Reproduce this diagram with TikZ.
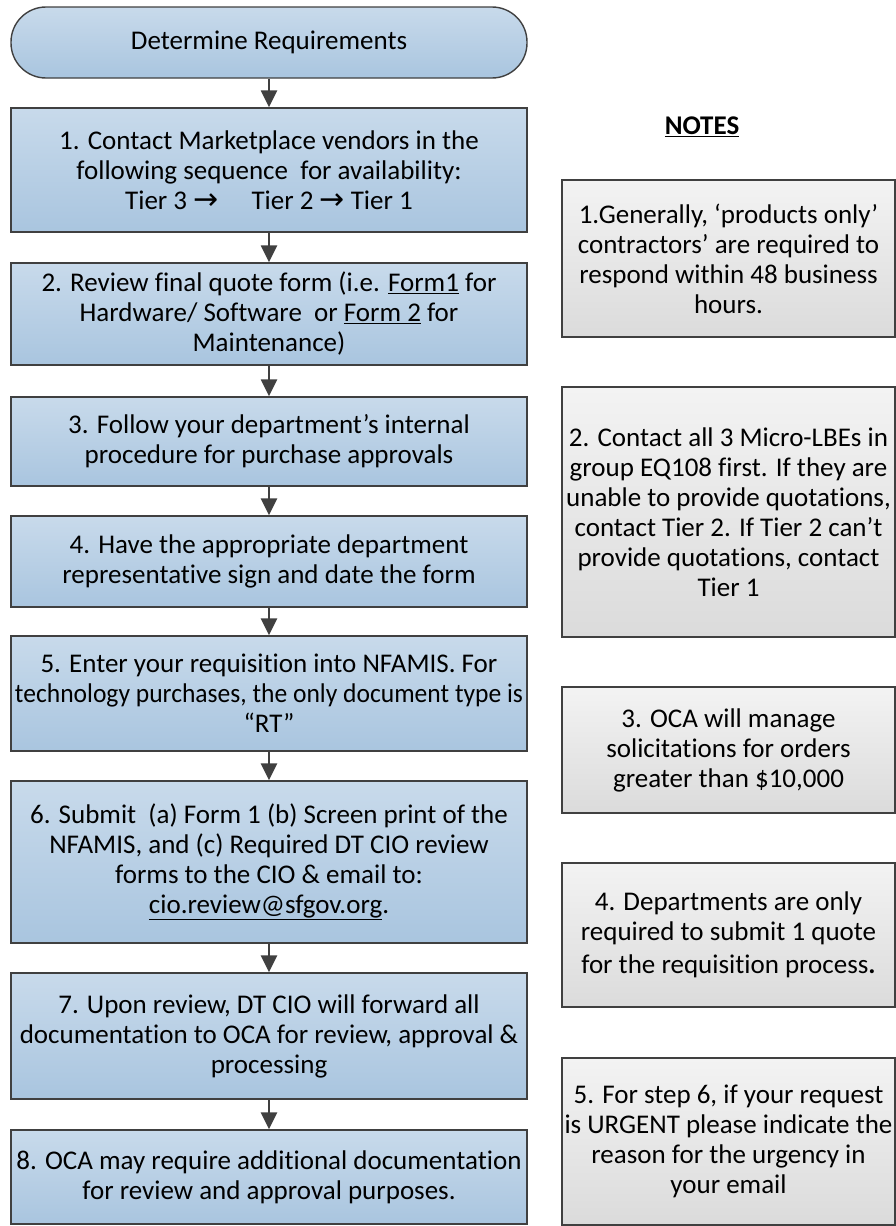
\documentclass[tikz,border=0pt]{standalone}
\usepackage{fontspec}
\usepackage{graphicx}
\setmainfont{Carlito}[Ligatures={NoCommon}]
\newfontfamily\arrowfont{DejaVu Sans}
\usetikzlibrary{arrows.meta}

\definecolor{boxtop}{HTML}{C8DAEB}
\definecolor{boxbottom}{HTML}{A9C5DF}
\definecolor{notetop}{HTML}{F3F3F3}
\definecolor{notebottom}{HTML}{DBDBDB}
\definecolor{edgegray}{HTML}{404040}

\newcommand{\tierto}{{\arrowfont\fontsize{30}{30}\selectfont →}}

\begin{document}
\begin{tikzpicture}[
        x=1pt, y=-1pt,
        font=\fontsize{27}{30}\selectfont,
        startnode/.style={rectangle, rounded corners=35pt, draw=edgegray, line width=1.4pt, top color=boxtop, bottom color=boxbottom, minimum width=516pt, minimum height=71pt, align=center},
        stepnode/.style={rectangle, draw=edgegray, line width=1.4pt, top color=boxtop, bottom color=boxbottom, minimum width=516pt, align=center, inner sep=1pt},
        notenode/.style={rectangle, draw=edgegray, line width=1.4pt, top color=notetop, bottom color=notebottom, minimum width=333pt, align=center, inner sep=1pt},
        flow/.style={draw=edgegray, line width=2.5pt, -{Triangle[width=16pt,length=17pt]}},
    ]
        \useasboundingbox (0,0) rectangle (896,1226);

        %Nodes
        \node[startnode] (start) at (269,42.5) {Determine Requirements};

        \node[stepnode, minimum height=124pt] (step1) at (269,170) {1. Contact Marketplace vendors in the\\following sequence\ \ for availability:\\Tier 3 \tierto\quad\ Tier 2 \tierto\ Tier 1};
        \node[stepnode, minimum height=102pt] (step2) at (269,314) {2. Review final quote form (i.e. \underline{Form1} for\\Hardware/ Software\ \ or \underline{Form 2} for\\Maintenance)};
        \node[stepnode, minimum height=89pt] (step3) at (269,441.5) {3. Follow your department’s internal\\procedure for purchase approvals};
        \node[stepnode, minimum height=91pt] (step4) at (269,561.5) {4. Have the appropriate department\\representative sign and date the form};
        \node[stepnode, minimum height=115pt] (step5) at (269,693.5) {5. Enter your requisition into NFAMIS. For\\\resizebox{508pt}{\height}{technology purchases, the only document type is}\\“RT”};
        \node[stepnode, minimum height=162pt] (step6) at (269,862) {6. Submit\ \ (a) Form 1 (b) Screen print of the\\NFAMIS, and (c) Required DT CIO review\\forms to the CIO \& email to:\\\underline{cio.review@sfgov.org}.};
        \node[stepnode, minimum height=126pt] (step7) at (269,1036) {7. Upon review, DT CIO will forward all\\documentation to OCA for review, approval \&\\processing};
        \node[stepnode, minimum height=94pt] (step8) at (269,1177) {8. OCA may require additional documentation\\for review and approval purposes.};

        \node[font=\fontsize{27}{30}\selectfont\bfseries] (notes) at (702,127) {\underline{NOTES}};

        \node[notenode, minimum height=157pt] (note1) at (728.5,258.5) {1.Generally, ‘products only’\\contractors’ are required to\\respond within 48 business\\hours.};
        \node[notenode, minimum height=250pt] (note2) at (728.5,512) {2. Contact all 3 Micro-LBEs in\\group EQ108 first. If they are\\unable to provide quotations,\\contact Tier 2. If Tier 2 can’t\\provide quotations, contact\\Tier 1};
        \node[notenode, minimum height=126pt] (note3) at (728.5,750) {3. OCA will manage\\solicitations for orders\\greater than \$10,000};
        \node[notenode, minimum height=144pt] (note4) at (728.5,935) {4. Departments are only\\required to submit 1 quote\\[3pt]for the requisition process\textbf{.}};
        \node[notenode, minimum height=167pt] (note5) at (728.5,1141.5) {5. For step 6, if your request\\is URGENT please indicate the\\reason for the urgency in\\your email};

        %Lines
        \draw[flow] (start) -- (step1);
        \draw[flow] (step1) -- (step2);
        \draw[flow] (step2) -- (step3);
        \draw[flow] (step3) -- (step4);
        \draw[flow] (step4) -- (step5);
        \draw[flow] (step5) -- (step6);
        \draw[flow] (step6) -- (step7);
        \draw[flow] (step7) -- (step8);
    \end{tikzpicture}
\end{document}
